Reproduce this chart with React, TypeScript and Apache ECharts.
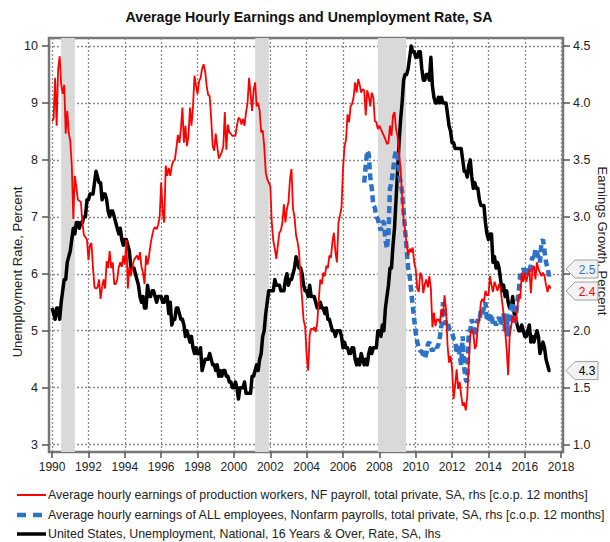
import React, { useEffect, useRef } from "react";
import * as echarts from "echarts";

const START_YEAR = 1990;

// United States unemployment rate, monthly, Jan 1990 - Jun 2017 (lhs)
const unemployment: number[] = [
  5.4, 5.3, 5.2, 5.4, 5.4, 5.2, 5.5, 5.7, 5.9, 5.9, 6.2, 6.3,
  6.4, 6.6, 6.8, 6.7, 6.9, 6.9, 6.8, 6.9, 6.9, 7.0, 7.0, 7.3,
  7.3, 7.4, 7.4, 7.4, 7.6, 7.8, 7.7, 7.6, 7.6, 7.3, 7.4, 7.4,
  7.3, 7.1, 7.0, 7.1, 7.1, 7.0, 6.9, 6.8, 6.7, 6.8, 6.6, 6.5,
  6.6, 6.6, 6.5, 6.4, 6.1, 6.1, 6.1, 6.0, 5.9, 5.8, 5.6, 5.5,
  5.6, 5.4, 5.4, 5.8, 5.6, 5.6, 5.7, 5.7, 5.6, 5.5, 5.6, 5.6,
  5.6, 5.5, 5.5, 5.6, 5.6, 5.3, 5.5, 5.1, 5.2, 5.2, 5.4, 5.4,
  5.3, 5.2, 5.2, 5.1, 4.9, 5.0, 4.9, 4.8, 4.9, 4.7, 4.6, 4.7,
  4.6, 4.6, 4.7, 4.3, 4.4, 4.5, 4.5, 4.5, 4.6, 4.5, 4.4, 4.4,
  4.3, 4.4, 4.2, 4.3, 4.2, 4.3, 4.3, 4.2, 4.2, 4.1, 4.1, 4.0,
  4.0, 4.1, 4.0, 3.8, 4.0, 4.0, 4.0, 4.1, 3.9, 3.9, 3.9, 3.9,
  4.2, 4.2, 4.3, 4.4, 4.3, 4.5, 4.6, 4.9, 5.0, 5.3, 5.5, 5.7,
  5.7, 5.7, 5.7, 5.9, 5.8, 5.8, 5.8, 5.7, 5.7, 5.7, 5.9, 6.0,
  5.8, 5.9, 5.9, 6.0, 6.1, 6.3, 6.2, 6.1, 6.1, 6.0, 5.8, 5.7,
  5.7, 5.6, 5.8, 5.6, 5.6, 5.6, 5.5, 5.4, 5.4, 5.5, 5.4, 5.4,
  5.3, 5.4, 5.2, 5.2, 5.1, 5.0, 5.0, 4.9, 5.0, 5.0, 5.0, 4.9,
  4.7, 4.8, 4.7, 4.7, 4.6, 4.6, 4.7, 4.7, 4.5, 4.4, 4.5, 4.4,
  4.6, 4.5, 4.4, 4.5, 4.4, 4.6, 4.7, 4.6, 4.7, 4.7, 4.7, 5.0,
  5.0, 4.9, 5.1, 5.0, 5.4, 5.6, 5.8, 6.1, 6.1, 6.5, 6.8, 7.3,
  7.8, 8.3, 8.7, 9.0, 9.4, 9.5, 9.5, 9.6, 9.8, 10.0, 9.9, 9.9,
  9.8, 9.8, 9.9, 9.9, 9.6, 9.4, 9.4, 9.5, 9.5, 9.4, 9.8, 9.3,
  9.1, 9.0, 9.0, 9.1, 9.0, 9.1, 9.0, 9.0, 9.0, 8.8, 8.6, 8.5,
  8.3, 8.3, 8.2, 8.2, 8.2, 8.2, 8.2, 8.0, 7.8, 7.8, 7.7, 7.9,
  8.0, 7.7, 7.5, 7.6, 7.5, 7.5, 7.3, 7.2, 7.2, 7.2, 6.9, 6.7,
  6.6, 6.7, 6.7, 6.2, 6.3, 6.1, 6.2, 6.1, 5.9, 5.7, 5.8, 5.6,
  5.7, 5.5, 5.4, 5.4, 5.6, 5.3, 5.2, 5.1, 5.0, 5.0, 5.1, 5.0,
  4.9, 4.9, 5.0, 5.1, 4.8, 4.9, 4.8, 4.9, 5.0, 4.9, 4.6, 4.7,
  4.8, 4.7, 4.5, 4.4, 4.3, 4.3,
];

// Average hourly earnings of production workers, y/y %, Jan 1990 - Jun 2017 (rhs)
const earningsProduction: number[] = [
  3.84, 3.86, 4.22, 3.80, 4.30, 4.41, 4.16, 4.08, 4.16, 3.73, 3.93, 3.74,
  3.66, 3.45, 2.98, 3.36, 3.26, 3.15, 3.14, 3.13, 2.95, 2.84, 2.82, 2.80,
  2.62, 2.75, 2.77, 2.55, 2.38, 2.37, 2.38, 2.45, 2.28, 2.38, 2.45, 2.37,
  2.61, 2.55, 2.70, 2.55, 2.60, 2.41, 2.41, 2.45, 2.56, 2.60, 2.56, 2.66,
  2.58, 2.80, 2.37, 2.56, 2.48, 2.56, 2.62, 2.64, 2.66, 2.62, 2.69, 2.56,
  2.51, 2.41, 2.66, 2.58, 2.66, 2.76, 2.83, 2.89, 2.91, 2.89, 2.93, 3.00,
  3.30, 3.04, 2.95, 3.45, 3.36, 3.43, 3.36, 3.45, 3.49, 3.50, 3.60, 3.72,
  3.65, 3.77, 3.96, 3.65, 3.80, 3.62, 3.71, 3.96, 3.80, 3.97, 4.24, 4.15,
  4.08, 4.19, 4.22, 4.30, 4.34, 4.28, 4.15, 4.07, 4.06, 3.86, 3.62, 3.58,
  3.73, 3.62, 3.51, 3.54, 3.57, 3.62, 3.92, 3.59, 3.81, 3.74, 3.73, 3.71,
  3.71, 3.71, 3.80, 3.87, 3.86, 3.81, 3.86, 3.80, 3.92, 4.00, 4.22, 4.08,
  3.93, 4.11, 4.18, 3.97, 4.00, 3.93, 3.74, 3.76, 3.62, 3.39, 3.33, 3.30,
  3.27, 2.95, 2.79, 2.72, 2.63, 2.75, 2.86, 2.88, 2.95, 3.11, 2.95, 3.07,
  3.13, 3.33, 3.42, 3.07, 3.00, 2.84, 2.78, 2.69, 2.45, 2.28, 2.09, 2.04,
  1.78, 1.65, 1.96, 2.02, 2.01, 2.03, 1.99, 2.07, 2.27, 2.45, 2.41, 2.51,
  2.48, 2.57, 2.55, 2.66, 2.64, 2.78, 2.86, 2.69, 2.60, 2.95, 3.01, 3.08,
  3.42, 3.62, 3.68, 3.90, 3.83, 3.97, 3.99, 4.05, 4.18, 4.09, 4.21, 4.16,
  4.09, 4.12, 4.11, 3.89, 4.11, 4.06, 3.97, 4.09, 4.05, 3.84, 3.83, 3.77,
  3.80, 3.77, 3.74, 3.71, 3.68, 3.64, 3.65, 3.80, 3.71, 3.89, 3.92, 3.77,
  3.71, 3.56, 3.42, 3.18, 2.98, 2.88, 2.76, 2.66, 2.72, 2.69, 2.73, 2.60,
  2.54, 2.37, 2.34, 2.51, 2.48, 2.33, 2.41, 2.45, 2.38, 2.48, 2.37, 2.03,
  2.16, 2.04, 2.10, 2.10, 2.07, 2.19, 2.13, 2.31, 2.19, 1.87, 1.72, 1.78,
  1.66, 1.40, 1.52, 1.66, 1.49, 1.55, 1.43, 1.34, 1.37, 1.30, 1.42, 1.72,
  1.96, 2.01, 1.99, 1.84, 1.87, 2.04, 2.10, 2.25, 2.28, 2.25, 2.35, 2.31,
  2.31, 2.48, 2.40, 2.34, 2.43, 2.39, 2.35, 2.41, 2.37, 2.25, 2.15, 2.00,
  1.84, 1.61, 1.96, 2.04, 2.13, 2.10, 2.07, 2.19, 2.32, 2.28, 2.51, 2.43,
  2.51, 2.43, 2.49, 2.54, 2.33, 2.54, 2.57, 2.45, 2.60, 2.54, 2.51, 2.48,
  2.51, 2.48, 2.40, 2.34, 2.40, 2.37,
];

// Average hourly earnings of ALL employees, y/y %, Mar 2007 - Jun 2017 (rhs)
const EARNINGS_ALL_START = 206; // month index of Mar 2007 counted from Jan 1990
const earningsAll: number[] = [
  3.30, 3.45, 3.58, 3.55, 3.35, 3.25, 3.10, 3.08, 3.00, 2.98,
  2.92, 2.88, 2.96, 2.95, 2.80, 2.72, 2.85, 3.25, 3.30, 3.40, 3.52, 3.58,
  3.55, 3.40, 3.30, 3.22, 3.05, 2.88, 2.72, 2.55, 2.48, 2.35, 2.22, 2.10,
  1.98, 1.90, 1.85, 1.82, 1.82, 1.78, 1.76, 1.80, 1.88, 1.90, 1.85, 1.82,
  1.85, 1.87, 1.85, 1.88, 1.95, 2.05, 2.25, 2.18, 2.05, 2.08, 2.02, 2.00,
  1.98, 1.93, 1.92, 1.80, 1.88, 1.78, 1.70, 1.95, 1.68, 1.57, 1.55, 2.00,
  2.00, 2.10, 2.05, 1.95, 2.05, 2.10, 2.08, 2.18, 2.15, 2.20, 2.25, 2.08,
  2.10, 2.12, 2.15, 2.05, 2.08, 2.05, 2.08, 2.12, 2.05, 2.10, 2.15, 1.98,
  2.15, 1.95, 2.12, 2.20, 2.25, 2.05, 2.10, 2.25, 2.35, 2.50, 2.45, 2.55,
  2.50, 2.48, 2.55, 2.52, 2.58, 2.65, 2.62, 2.72, 2.68, 2.65, 2.60, 2.78,
  2.80, 2.70, 2.60, 2.55, 2.48, 2.52,
];

const xTicks = [1990, 1992, 1994, 1996, 1998, 2000, 2002, 2004, 2006, 2008, 2010, 2012, 2014, 2016, 2018];
const leftTicks = [3, 4, 5, 6, 7, 8, 9, 10];
const rightTicks = [1.0, 1.5, 2.0, 2.5, 3.0, 3.5, 4.0, 4.5];
// the 2.5 label is covered by the end-value callout in the reference
const rightLabels = [1.0, 1.5, 2.0, 3.0, 3.5, 4.0, 4.5];
const recessions: [number, number][] = [
  [1990.5, 1991.25],
  [2001.17, 2001.92],
  [2007.92, 2009.47],
];

const TITLE = "Average Hourly Earnings and Unemployment Rate, SA";
const LEFT_NAME = "Unemployment Rate, Percent";
const RIGHT_NAME = "Earnings Growth, Percent";
const LEGEND = [
  "Average hourly earnings of production workers, NF payroll, total private, SA, rhs [c.o.p. 12 months]",
  "Average hourly earnings of ALL employees, Nonfarm payrolls, total private, SA, rhs [c.o.p. 12 months]",
  "United States, Unemployment, National, 16 Years & Over, Rate, SA, lhs",
];

const FONT = "Liberation Sans, Arial, sans-serif";
const RED = "#ff0000";
const BLUE = "#2e72c8";
const BLACK = "#000000";

const toXY = (arr: number[], start: number) =>
  arr.map((v, i) => [START_YEAR + (start + i) / 12, v]);

export default function App() {
  const ref = useRef<HTMLDivElement>(null);

  useEffect(() => {
    if (!ref.current) return;
    const chart = echarts.init(ref.current, undefined, { renderer: "svg" });

    const gridLine = { show: true, lineStyle: { color: "#8a8a8a", width: 1.3, type: [2, 2] as any } };

    chart.setOption({
      animation: false,
      textStyle: { fontFamily: FONT },
      grid: {
        left: 49, right: 47, top: 38, bottom: 90,
        show: true, borderColor: "#777", borderWidth: 2.5, backgroundColor: "transparent",
      },
      xAxis: {
        type: "value", min: 1989.83, max: 2018.1,
        axisLine: { show: false },
        axisTick: { show: true, customValues: xTicks, length: 6, lineStyle: { color: "#555", width: 1.5 } },
        axisLabel: { customValues: xTicks, fontSize: 12, color: "#222", margin: 9, fontFamily: FONT, formatter: (v: number) => String(Math.round(v)) },
        splitLine: gridLine,
      },
      yAxis: [
        {
          type: "value", min: 2.87, max: 10.14, position: "left",
          axisLine: { show: false },
          axisTick: { show: true, customValues: leftTicks, length: 7, lineStyle: { color: "#555", width: 1.5 } },
          axisLabel: { customValues: leftTicks, fontSize: 12.5, color: "#222", margin: 11, fontFamily: FONT },
          splitLine: gridLine,
        },
        {
          type: "value", min: 0.935, max: 4.57, position: "right",
          axisLine: { show: false },
          axisTick: { show: true, customValues: rightTicks, length: 7, lineStyle: { color: "#555", width: 1.5 } },
          axisLabel: { customValues: rightLabels, fontSize: 12.5, color: "#222", margin: 10, fontFamily: FONT, formatter: (v: number) => v.toFixed(1) },
          splitLine: { show: false },
        },
      ],
      series: [
        {
          type: "line", name: "recessions", data: [], z: -1, silent: true,
          markArea: {
            silent: true,
            itemStyle: { color: "#d9d9d9" },
            data: recessions.map(([a, b]) => [{ xAxis: a }, { xAxis: b }]),
          },
        },
        {
          type: "line", name: "unemployment", yAxisIndex: 0, data: toXY(unemployment, 0),
          showSymbol: false, symbol: "none", z: 2,
          lineStyle: { color: BLACK, width: 3.5, join: "round" },
        },
        {
          type: "line", name: "all", yAxisIndex: 1, data: toXY(earningsAll, EARNINGS_ALL_START),
          showSymbol: false, symbol: "none", z: 3,
          lineStyle: { color: BLUE, width: 4.5, type: [7, 4] },
        },
        {
          type: "line", name: "production", yAxisIndex: 1, data: toXY(earningsProduction, 0),
          showSymbol: false, symbol: "none", z: 4,
          lineStyle: { color: RED, width: 1.8 },
        },
      ],
    });

    // annotations computed from the chart's own scales
    const lastX = 2018.1;
    const xr = chart.convertToPixel({ xAxisIndex: 0 }, lastX) as number;
    const bl = earningsAll[earningsAll.length - 1];
    const rd = earningsProduction[earningsProduction.length - 1];
    const un = unemployment[unemployment.length - 1];
    let yb = chart.convertToPixel({ yAxisIndex: 1 }, bl) as number;
    let yr = chart.convertToPixel({ yAxisIndex: 1 }, rd) as number;
    const yu = chart.convertToPixel({ yAxisIndex: 0 }, un) as number;
    if (Math.abs(yr - yb) < 22) {
      const c = (yb + yr) / 2;
      if (yb <= yr) { yb = c - 11; yr = c + 11; } else { yb = c + 11; yr = c - 11; }
    }
    const tipX = xr + 3;
    const callout = (y: number, text: string, color: string) => [
      {
        type: "polygon", z: 100,
        shape: { points: [[tipX, y], [tipX + 9, y - 9], [tipX + 32, y - 9], [tipX + 32, y + 9], [tipX + 9, y + 9]] },
        style: { fill: "#f2f2f2", stroke: "#a0a0a0", lineWidth: 1 },
      },
      {
        type: "text", z: 101, x: tipX + 21, y: y + 0.5,
        style: { text, fill: color, font: `12px ${FONT}`, align: "center", verticalAlign: "middle" },
      },
    ];

    const legendY = [495, 515, 534];
    const legendColors = [RED, BLUE, BLACK];
    const legendEls: any[] = [];
    LEGEND.forEach((t, i) => {
      const y = legendY[i];
      legendEls.push({
        type: "line", shape: { x1: 17, y1: y, x2: 46, y2: y },
        style: {
          stroke: legendColors[i],
          lineWidth: i === 0 ? 2 : i === 1 ? 4.5 : 3.5,
          lineDash: i === 1 ? [9, 7] : null,
        },
      });
      legendEls.push({
        type: "text", x: 48, y,
        style: { text: t, fill: "#222", font: `12.4px ${FONT}`, align: "left", verticalAlign: "middle" },
      });
    });

    chart.setOption({
      graphic: [
        {
          type: "text", x: 309, y: 17,
          style: { text: TITLE, fill: "#111", font: `bold 14.2px ${FONT}`, align: "center", verticalAlign: "middle" },
        },
        {
          type: "text", x: 17, y: 272, rotation: Math.PI / 2,
          style: { text: LEFT_NAME, fill: "#222", font: `13px ${FONT}`, align: "center", verticalAlign: "middle" },
        },
        {
          type: "text", x: 602, y: 241, rotation: -Math.PI / 2,
          style: { text: RIGHT_NAME, fill: "#222", font: `13px ${FONT}`, align: "center", verticalAlign: "middle" },
        },
        ...callout(yb, bl.toFixed(1), BLUE),
        ...callout(yr, rd.toFixed(1), RED),
        ...callout(yu, un.toFixed(1), BLACK),
        ...legendEls,
      ],
    });

    return () => chart.dispose();
  }, []);

  return <div ref={ref} style={{ position: "absolute", left: 0, top: 0, width: 610, height: 542 }} />;
}
